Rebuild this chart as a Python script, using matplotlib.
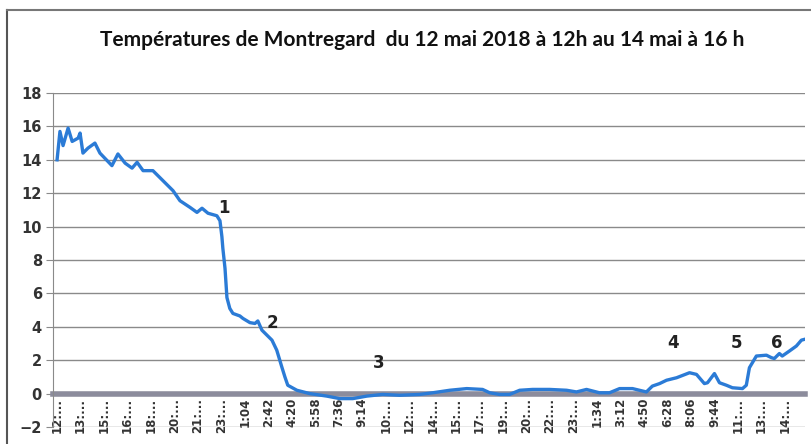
import matplotlib.pyplot as plt
from matplotlib.lines import Line2D
import numpy as np

# minutes since 12 May 2018 12:00
minutes = [0, 12, 25, 46, 63, 88, 96, 108, 129, 158, 179, 229, 254, 284, 313, 334, 359,
           400, 442, 484, 513, 555, 584, 605, 630, 667, 680, 688, 692, 701, 709, 721, 734,
           763, 776, 805, 826, 838, 855, 876, 897, 917, 938, 951, 963, 1001, 1055, 1126,
           1180, 1234, 1293, 1359, 1430, 1514, 1568, 1639, 1710, 1776, 1806, 1847, 1889,
           1931, 1985, 2056, 2127, 2168, 2210, 2264, 2306, 2348, 2402, 2460, 2485, 2515,
           2544, 2586, 2640, 2669, 2702, 2715, 2744, 2765, 2794, 2819, 2861, 2877, 2890,
           2919, 2961, 2982, 2994, 3015, 3027, 3057, 3086, 3107, 3120]
temps = [14.0, 15.7, 14.85, 15.9, 15.1, 15.3, 15.6, 14.4, 14.7, 15.0, 14.4, 13.65, 14.35,
         13.8, 13.5, 13.85, 13.35, 13.35, 12.75, 12.15, 11.55, 11.15, 10.85, 11.1, 10.8,
         10.65, 10.35, 9.4, 8.7, 7.5, 5.75, 5.1, 4.8, 4.65, 4.5, 4.25, 4.2, 4.35, 3.8, 3.5,
         3.2, 2.6, 1.6, 1.0, 0.5, 0.2, 0.0, -0.15, -0.3, -0.3, -0.15, -0.05, -0.1, -0.05,
         0.05, 0.2, 0.3, 0.25, 0.05, -0.05, -0.05, 0.2, 0.25, 0.25, 0.2, 0.1, 0.25, 0.05,
         0.05, 0.3, 0.3, 0.1, 0.45, 0.6, 0.8, 0.95, 1.25, 1.15, 0.6, 0.65, 1.2, 0.65, 0.5,
         0.35, 0.3, 0.5, 1.55, 2.25, 2.3, 2.15, 2.1, 2.4, 2.25, 2.55, 2.85, 3.2, 3.25]

tick_labels = ['12:...', '13:...', '15:...', '16:...', '18:...', '20:...', '21:...', '23:...',
               '1:04', '2:42', '4:20', '5:58', '7:36', '9:14', '10:...', '12:...', '14:...',
               '15:...', '17:...', '19:...', '20:...', '22:...', '23:...', '1:34', '3:12',
               '4:50', '6:28', '8:06', '9:44', '11:...', '13:...', '14:...']
tick_step = 98

notes = ['1', '2', '3', '4', '5', '6']
note_x = [696, 901, 1343, 2573, 2835, 3006]
note_y = [11.1, 4.25, 1.86, 3.05, 3.05, 3.05]

fig = plt.figure(figsize=(8.11, 4.44), dpi=100)
ax = fig.add_axes([53 / 811, 17 / 444, 752 / 811, 334 / 444])

# spine first: moving it resets the ticks
ax.spines['top'].set_visible(False)
ax.spines['right'].set_visible(False)
ax.spines['left'].set_color('#8a8a8a')
ax.spines['bottom'].set_position(('data', 0))
ax.spines['bottom'].set_color('#8c8c9c')
ax.spines['bottom'].set_linewidth(4)
ax.spines['bottom'].set_zorder(2)

ax.plot(minutes, temps, color='#2b7bd6', lw=2.4, zorder=3, solid_joinstyle='round')

ax.set_xlim(-17, 3122)
ax.set_ylim(-2, 18)
ax.set_yticks(np.arange(-2, 19, 2))
ax.yaxis.grid(True, color='#8a8a8a', lw=1)
ax.set_axisbelow(True)
ax.tick_params(axis='y', length=5, color='#8a8a8a', labelsize=10.5, pad=3)
for t in ax.get_yticklabels():
    t.set_fontweight('bold')
    t.set_color('#333333')

ax.set_xticks([i * tick_step for i in range(len(tick_labels))])
ax.set_xticklabels(tick_labels, rotation=90, va='top', ha='center',
                   fontsize=8.5, fontweight='bold', color='#333333')
ax.tick_params(axis='x', length=0, pad=3)

for s, x, y in zip(notes, note_x, note_y):
    ax.text(x, y, s, fontsize=12, fontweight='bold', color='#222222', ha='center', va='center')

fig.text(422 / 811, 1 - 40 / 444, 'Températures de Montregard  du 12 mai 2018 à 12h au 14 mai à 16 h',
         ha='center', va='center', fontsize=15, fontweight='bold', family='Lato', color='#111111')

# chart frame
fig.add_artist(Line2D([7 / 811, 7 / 811], [0, 1 - 10 / 444], color='#555555', lw=1.5))
fig.add_artist(Line2D([7 / 811, 1], [1 - 10 / 444, 1 - 10 / 444], color='#777777', lw=1.5))

plt.savefig('out.png', dpi=100)
